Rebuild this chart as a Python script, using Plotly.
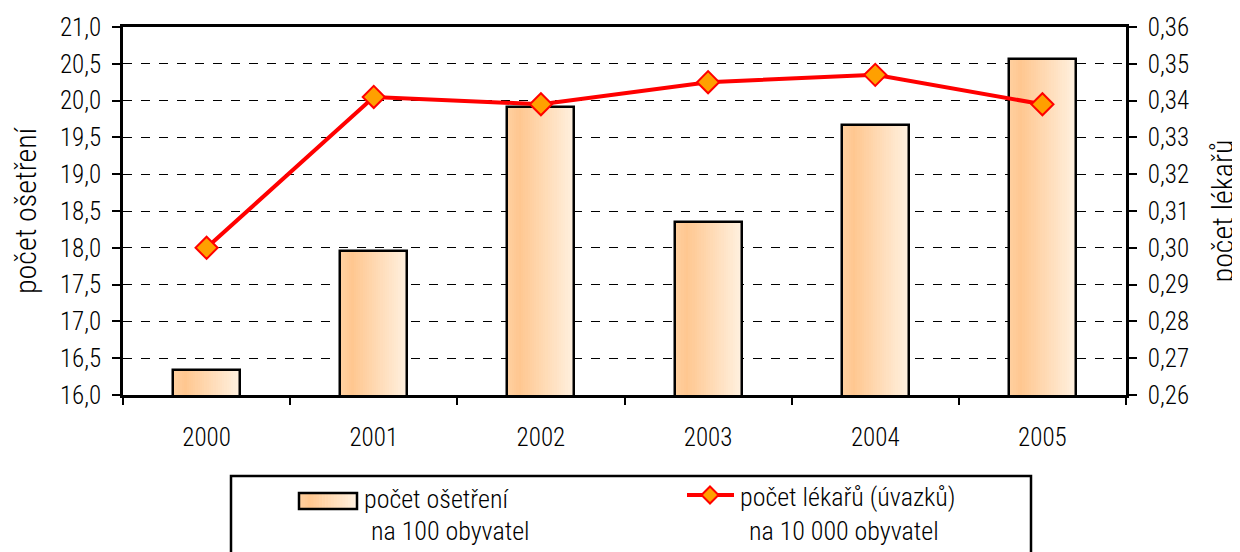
import plotly.graph_objects as go

years = ["2000", "2001", "2002", "2003", "2004", "2005"]
treatments = [16.34, 17.96, 19.91, 18.35, 19.67, 20.57]
doctors = [0.300, 0.341, 0.339, 0.345, 0.347, 0.339]

left_ticks = [16.0, 16.5, 17.0, 17.5, 18.0, 18.5, 19.0, 19.5, 20.0, 20.5, 21.0]
left_labels = ["16,0", "16,5", "17,0", "17,5", "18,0", "18,5", "19,0", "19,5", "20,0", "20,5", "21,0"]
right_ticks = [0.26, 0.27, 0.28, 0.29, 0.30, 0.31, 0.32, 0.33, 0.34, 0.35, 0.36]
right_labels = ["0,26", "0,27", "0,28", "0,29", "0,30", "0,31", "0,32", "0,33", "0,34", "0,35", "0,36"]

legend_bar_l1 = "počet ošetření"
legend_bar_l2 = "na 100 obyvatel"
legend_line_l1 = "počet lékařů (úvazků)"
legend_line_l2 = "na 10 000 obyvatel"

FONT = "Roboto Condensed, Liberation Sans Narrow, sans-serif"
FS = 25
FS_LEG = 26
BAR_W = 0.4

# page body has an 8px margin; figure sized to fit the 1240x552 window
OFF = 8
W, H = 1240 - OFF, 552 - OFF
ML, MR, MT, MB = 123 - OFF, 114, 27 - OFF, 157
PW, PH = W - ML - MR, H - MT - MB
X0S, Y0S = ML + OFF, MT + OFF + PH  # screen px of plot left / bottom


def px(xp):
    return (xp - X0S) / PW


def py(yp):
    return (Y0S - yp) / PH


stops = [(0.0, (255, 208, 160)), (0.18, (255, 199, 144)), (1.0, (255, 241, 224))]


def grad(t):
    for j in range(len(stops) - 1):
        if stops[j][0] <= t <= stops[j + 1][0]:
            u = (t - stops[j][0]) / (stops[j + 1][0] - stops[j][0])
            c = tuple(round(a + (b - a) * u) for a, b in zip(stops[j][1], stops[j + 1][1]))
            return "rgb(%d,%d,%d)" % c
    return "rgb(255,241,224)"


fig = go.Figure()

N = 30
sw = BAR_W / N
for i in range(N):
    fig.add_trace(go.Bar(
        x=years, y=treatments, width=sw * 1.2, offset=-BAR_W / 2 + i * sw,
        marker=dict(color=grad((i + 0.5) / N), line=dict(width=0)),
        showlegend=False, hoverinfo="skip",
    ))

fig.add_trace(go.Bar(
    x=years, y=treatments, width=BAR_W, name=legend_bar_l1,
    marker=dict(color="rgba(0,0,0,0)", line=dict(color="black", width=2.5)),
    showlegend=False, hoverinfo="skip",
))

fig.add_trace(go.Scatter(
    x=years, y=doctors, yaxis="y2", mode="lines+markers", name=legend_line_l1,
    line=dict(color="#FF0000", width=4),
    marker=dict(symbol="diamond", size=17, color="#FFA000", line=dict(color="#FF0000", width=2)),
    showlegend=False,
))

shapes = []
# legend frame
shapes.append(dict(type="rect", xref="paper", yref="paper",
                   x0=px(231), x1=px(1031), y0=py(600), y1=py(476),
                   line=dict(color="black", width=2.5), fillcolor="rgba(0,0,0,0)"))
# bar legend icon (gradient)
ix0, ix1, iy0, iy1 = 299, 357, 493, 509
M = 20
for i in range(M):
    a = ix0 + (ix1 - ix0) * i / M
    b = ix0 + (ix1 - ix0) * (i + 1) / M + 0.6
    shapes.append(dict(type="rect", xref="paper", yref="paper",
                       x0=px(a), x1=px(b), y0=py(iy1), y1=py(iy0),
                       line=dict(width=0), fillcolor=grad((i + 0.5) / M)))
shapes.append(dict(type="rect", xref="paper", yref="paper",
                   x0=px(ix0), x1=px(ix1), y0=py(iy1), y1=py(iy0),
                   line=dict(color="black", width=2.5), fillcolor="rgba(0,0,0,0)"))
# line legend icon
shapes.append(dict(type="line", xref="paper", yref="paper",
                   x0=px(687), x1=px(734), y0=py(495), y1=py(495),
                   line=dict(color="#FF0000", width=4)))
cx, cy, d = 710, 495, 8.5
shapes.append(dict(type="path", xref="paper", yref="paper",
                   path="M %f,%f L %f,%f L %f,%f L %f,%f Z" % (
                       px(cx - d), py(cy), px(cx), py(cy - d), px(cx + d), py(cy), px(cx), py(cy + d)),
                   fillcolor="#FFA000", line=dict(color="#FF0000", width=2)))

annotations = [
    dict(text=legend_bar_l1, x=px(362), y=py(499)),
    dict(text=legend_bar_l2, x=px(369), y=py(531)),
    dict(text=legend_line_l1, x=px(738), y=py(497)),
    dict(text=legend_line_l2, x=px(747), y=py(531)),
]
for a in annotations:
    a.update(xref="paper", yref="paper", xanchor="left", yanchor="middle", showarrow=False,
             font=dict(family=FONT, size=FS_LEG, color="black", weight=300))

fig.update_layout(
    width=W, height=H,
    margin=dict(l=ML, r=MR, t=MT, b=MB, autoexpand=False),
    paper_bgcolor="white", plot_bgcolor="white",
    barmode="overlay", bargap=0,
    font=dict(family=FONT, size=FS, color="black", weight=300),
    xaxis=dict(
        type="category", showline=True, linecolor="black", linewidth=2.5, mirror=True,
        ticks="outside", tickson="boundaries", ticklen=7, tickcolor="black", tickwidth=2,
        showgrid=False, ticklabelstandoff=18,
    ),
    yaxis=dict(
        range=[16, 21], tickvals=left_ticks, ticktext=left_labels,
        showline=True, linecolor="black", linewidth=2.5,
        ticks="outside", ticklen=8, tickcolor="black", tickwidth=2,
        showgrid=True, gridcolor="black", gridwidth=1, griddash="dash",
        zeroline=False, ticklabelstandoff=6,
        title=dict(text="počet ošetření", standoff=22),
    ),
    yaxis2=dict(
        range=[0.26, 0.36], tickvals=right_ticks, ticktext=right_labels,
        overlaying="y", side="right",
        showline=True, linecolor="black", linewidth=2.5,
        ticks="outside", ticklen=8, tickcolor="black", tickwidth=2,
        showgrid=False, zeroline=False, ticklabelstandoff=6,
        title=dict(text="počet lékařů", standoff=25),
    ),
    shapes=shapes,
    annotations=annotations,
    showlegend=False,
)

fig.write_html("out.html")
